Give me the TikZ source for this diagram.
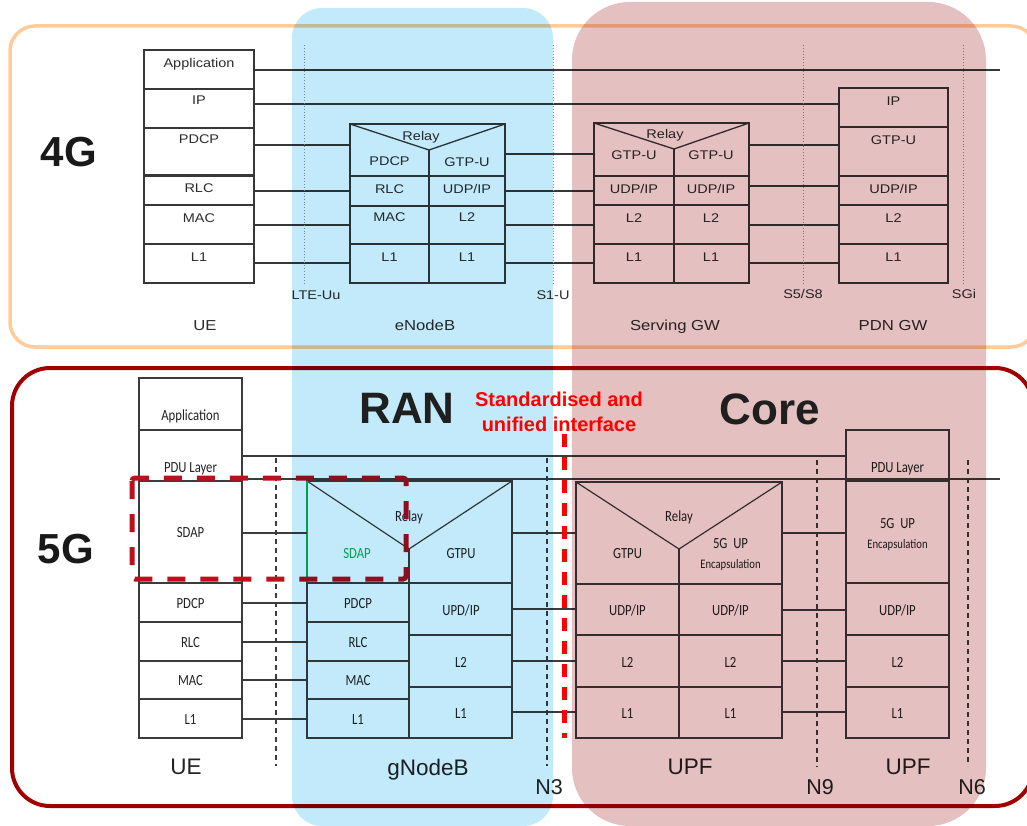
\documentclass[tikz,border=0pt]{standalone}
\usepackage{fontspec}
\setmainfont{Liberation Sans}
\newfontfamily\fA[FakeStretch=1.15]{Liberation Sans}
\newfontfamily\fC[FakeStretch=0.82]{Carlito}
\usetikzlibrary{fit}
\definecolor{orfr}{RGB}{255,203,153}
\definecolor{rdfr}{RGB}{160,0,0}
\definecolor{blueov}{RGB}{194,234,250}
\definecolor{pinkov}{RGB}{228,192,193}
\definecolor{lnA}{RGB}{55,55,55}
\definecolor{lnB}{RGB}{60,60,60}
\definecolor{txA}{RGB}{45,45,45}
\definecolor{txB}{RGB}{35,35,35}
\definecolor{sdapgreen}{RGB}{0,176,80}
\definecolor{boxred}{RGB}{190,15,30}
\definecolor{dotgrey}{RGB}{150,150,150}
\tikzset{
  cellA/.style={draw=lnA, line width=1.3pt, inner sep=0pt, outer sep=0pt},
  cellB/.style={draw=lnB, line width=1.2pt, inner sep=0pt, outer sep=0pt},
  conA/.style={draw=lnA, line width=1.1pt},
  conB/.style={draw=lnB, line width=1.1pt},
  tA/.style={font=\fA\fontsize{12.6}{14}\selectfont, text=txA, inner sep=0pt, text height=9pt, text depth=0pt},
  tAlab/.style={font=\fA\fontsize{14.5}{16}\selectfont, text=txA, inner sep=0pt, text height=10.4pt, text depth=0pt},
  tB/.style={font=\fC\fontsize{15.5}{17}\selectfont, text=txB, inner sep=0pt, text height=10pt, text depth=0pt},
  tBs/.style={font=\fC\fontsize{13}{15}\selectfont, text=txB, inner sep=0pt, text height=8.4pt, text depth=0pt},
  tBlab/.style={font=\fontsize{22.5}{25}\selectfont, text=txB, inner sep=0pt, text height=16.1pt, text depth=0pt},
  tNlab/.style={font=\fontsize{21.5}{24}\selectfont, text=txB, inner sep=0pt, text height=15.4pt, text depth=0pt},
  bigG/.style={font=\bfseries\fontsize{42}{46}\selectfont, text=black!90, inner sep=0pt, text height=30pt, text depth=0pt},
  bigR/.style={font=\bfseries\fontsize{44}{48}\selectfont, text=black!88, inner sep=0pt, text height=31.5pt, text depth=0pt},
  redT/.style={font=\bfseries\fontsize{20}{22}\selectfont, text=red, inner sep=0pt, text height=14.3pt, text depth=0pt},
  dotA/.style={draw=dotgrey, line width=0.9pt, dotted},
  dashB/.style={draw=lnB, line width=1.2pt, dash pattern=on 5pt off 4pt},
}
\newcommand\mycell[6]{\node[#1, fit={(#3,#4) (#5,#6)}] (#2) {};}
\newcommand\mytext[5]{\node[#1] (#2) at (#3,#4) {#5};}
\newcommand\mylink[4]{\draw[#1] (#2.east |- 0,#4) -- (#3.west |- 0,#4);}
\begin{document}
\begin{tikzpicture}[x=1pt,y=-1pt]
\useasboundingbox (0,0) rectangle (1027,826);
\fill[white] (0,0) rectangle (1027,826);
% frames
\draw[orfr, line width=3.5pt, rounded corners=25pt] (10,26) rectangle (1036,347);
\draw[rdfr, line width=4pt, rounded corners=38pt] (12,368) rectangle (1033,806);

% ================= 4G =================
\mytext{bigG}{lab4G}{69}{152}{4G}
% UE
\mycell{cellA}{ueApp}{144}{50}{254}{89}
\mycell{cellA}{ueIP}{144}{89}{254}{128}
\mycell{cellA}{uePDCP}{144}{128}{254}{174.5}
\mycell{cellA}{ueRLC}{144}{176}{254}{205}
\mycell{cellA}{ueMAC}{144}{205}{254}{244}
\mycell{cellA}{ueLone}{144}{244}{254}{283}
\mytext{tA}{ueAppT}{199}{63}{Application}
\mytext{tA}{ueIPT}{199}{100}{IP}
\mytext{tA}{uePDCPT}{199}{139}{PDCP}
\mytext{tA}{ueRLCT}{199}{188}{RLC}
\mytext{tA}{ueMACT}{199}{218}{MAC}
\mytext{tA}{ueLoneT}{199}{257}{L1}
% eNodeB
\mycell{cellA}{enbTop}{350}{124}{505}{176}
\coordinate (enbV) at (429,150);
\draw[lnA, line width=1.3pt] (enbTop.north west) -- (enbV) -- (enbTop.north east);
\draw[lnA, line width=1.3pt] (enbV) -- (enbV |- enbTop.south);
\mycell{cellA}{enbRLC}{350}{176}{429}{206}
\mycell{cellA}{enbUDP}{429}{176}{505}{206}
\mycell{cellA}{enbMAC}{350}{206}{429}{244}
\mycell{cellA}{enbLtwo}{429}{206}{505}{244}
\mycell{cellA}{enbLoneA}{350}{244}{429}{283}
\mycell{cellA}{enbLoneB}{429}{244}{505}{283}
\mytext{tA}{enbRelayT}{421}{136}{Relay}
\mytext{tA}{enbPDCPT}{389.5}{161}{PDCP}
\mytext{tA}{enbGTPT}{467}{162}{GTP-U}
\mytext{tA}{enbRLCT}{389.5}{189}{RLC}
\mytext{tA}{enbUDPT}{467}{189}{UDP/IP}
\mytext{tA}{enbMACT}{389.5}{217}{MAC}
\mytext{tA}{enbLtwoT}{467}{217}{L2}
\mytext{tA}{enbLoneAT}{389.5}{257}{L1}
\mytext{tA}{enbLoneBT}{467}{257}{L1}
% Serving GW
\mycell{cellA}{sgwTop}{594}{123}{749}{176}
\coordinate (sgwV) at (674,149);
\draw[lnA, line width=1.3pt] (sgwTop.north west) -- (sgwV) -- (sgwTop.north east);
\draw[lnA, line width=1.3pt] (sgwV) -- (sgwV |- sgwTop.south);
\mycell{cellA}{sgwUDPa}{594}{176}{674}{205}
\mycell{cellA}{sgwUDPb}{674}{176}{749}{205}
\mycell{cellA}{sgwLtwoA}{594}{205}{674}{244}
\mycell{cellA}{sgwLtwoB}{674}{205}{749}{244}
\mycell{cellA}{sgwLoneA}{594}{244}{674}{283}
\mycell{cellA}{sgwLoneB}{674}{244}{749}{283}
\mytext{tA}{sgwRelayT}{665}{134}{Relay}
\mytext{tA}{sgwGTPaT}{634}{155}{GTP-U}
\mytext{tA}{sgwGTPbT}{711}{155}{GTP-U}
\mytext{tA}{sgwUDPaT}{634}{189}{UDP/IP}
\mytext{tA}{sgwUDPbT}{711}{189}{UDP/IP}
\mytext{tA}{sgwLtwoAT}{634}{218}{L2}
\mytext{tA}{sgwLtwoBT}{711}{218}{L2}
\mytext{tA}{sgwLoneAT}{634}{257}{L1}
\mytext{tA}{sgwLoneBT}{711}{257}{L1}
% PDN GW
\mycell{cellA}{pdnIP}{839}{88}{948}{127}
\mycell{cellA}{pdnGTP}{839}{127}{948}{176}
\mycell{cellA}{pdnUDP}{839}{176}{948}{205}
\mycell{cellA}{pdnLtwo}{839}{205}{948}{244}
\mycell{cellA}{pdnLone}{839}{244}{948}{283}
\mytext{tA}{pdnIPT}{893.5}{101}{IP}
\mytext{tA}{pdnGTPT}{893.5}{140}{GTP-U}
\mytext{tA}{pdnUDPT}{893.5}{189}{UDP/IP}
\mytext{tA}{pdnLtwoT}{893.5}{218}{L2}
\mytext{tA}{pdnLoneT}{893.5}{257}{L1}
% 4G connectors
\coordinate (appEnd) at (1000,70);
\draw[conA] (ueApp.east |- appEnd) -- (appEnd);
\mylink{conA}{ueIP}{pdnIP}{104}
\mylink{conA}{uePDCP}{enbTop}{145}
\mylink{conA}{ueRLC}{enbRLC}{191}
\mylink{conA}{ueMAC}{enbMAC}{225}
\mylink{conA}{ueLone}{enbLoneA}{263}
\mylink{conA}{enbTop}{sgwTop}{154}
\mylink{conA}{enbUDP}{sgwUDPa}{191}
\mylink{conA}{enbLtwo}{sgwLtwoA}{225}
\mylink{conA}{enbLoneB}{sgwLoneA}{263}
\mylink{conA}{sgwTop}{pdnGTP}{145}
\mylink{conA}{sgwUDPb}{pdnUDP}{186}
\mylink{conA}{sgwLtwoB}{pdnLtwo}{225}
\mylink{conA}{sgwLoneB}{pdnLone}{263}
% 4G interface dotted lines
\coordinate (ltet) at (304,45); \coordinate (lteb) at (304,285);
\coordinate (sonet) at (553,45); \coordinate (soneb) at (553,285);
\coordinate (sfivet) at (803,45); \coordinate (sfiveb) at (803,285);
\coordinate (sgit) at (963,45); \coordinate (sgib) at (963,285);
\draw[dotA] (ltet) -- (lteb);
\draw[dotA] (sonet) -- (soneb);
\draw[dotA] (sfivet) -- (sfiveb);
\draw[dotA] (sgit) -- (sgib);
\mytext{tA}{lteT}{316}{295}{LTE-Uu}
\mytext{tA}{soneT}{553}{295}{S1-U}
\mytext{tA}{sfiveT}{803}{294}{S5/S8}
\mytext{tA}{sgiT}{964}{294}{SGi}
\mytext{tAlab}{ueFourL}{205}{325}{UE}
\mytext{tAlab}{enbL}{425}{325}{eNodeB}
\mytext{tAlab}{sgwL}{675}{325}{Serving GW}
\mytext{tAlab}{pdnL}{893}{325}{PDN GW}

% ================= 5G =================
\mytext{bigG}{lab5G}{66}{548}{5G}
% UE
\mycell{cellB}{uefApp}{139}{378}{242}{430}
\mycell{cellB}{uefPDU}{139}{430}{242}{481}
\mycell{cellB}{uefSDAP}{139}{481}{242}{583}
\mycell{cellB}{uefPDCP}{139}{583}{242}{622}
\mycell{cellB}{uefRLC}{139}{622}{242}{661}
\mycell{cellB}{uefMAC}{139}{661}{242}{699}
\mycell{cellB}{uefLone}{139}{699}{242}{738}
\mytext{tB}{uefAppT}{190.5}{415}{Application}
\mytext{tB}{uefPDUT}{190.5}{467}{PDU Layer}
\mytext{tB}{uefSDAPT}{190.5}{532}{SDAP}
\mytext{tB}{uefPDCPT}{190.5}{603}{PDCP}
\mytext{tB}{uefRLCT}{190.5}{642}{RLC}
\mytext{tB}{uefMACT}{190.5}{680}{MAC}
\mytext{tB}{uefLoneT}{190.5}{719}{L1}
% gNodeB
\mycell{cellB}{gnbTop}{307}{481}{512}{583}
\coordinate (gnbV) at (409,549);
\draw[lnB, line width=1.2pt] (gnbTop.north west) -- (gnbV) -- (gnbTop.north east);
\draw[lnB, line width=1.2pt] (gnbV) -- (gnbV |- gnbTop.south);
\draw[sdapgreen, line width=1.2pt] (gnbTop.north west) -- (gnbTop.south west);
\mycell{cellB}{gnbPDCP}{307}{583}{409}{622}
\mycell{cellB}{gnbRLC}{307}{622}{409}{661}
\mycell{cellB}{gnbMAC}{307}{661}{409}{699}
\mycell{cellB}{gnbLoneA}{307}{699}{409}{738}
\mycell{cellB}{gnbUDP}{409}{583}{512}{635}
\mycell{cellB}{gnbLtwo}{409}{635}{512}{687}
\mycell{cellB}{gnbLoneB}{409}{687}{512}{738}
\mytext{tB}{gnbRelayT}{409}{516}{Relay}
\mytext{tB, text=sdapgreen}{gnbSDAPT}{357}{553}{SDAP}
\mytext{tB}{gnbGTPT}{461}{553}{GTPU}
\mytext{tB}{gnbPDCPT}{358}{603}{PDCP}
\mytext{tB}{gnbRLCT}{358}{642}{RLC}
\mytext{tB}{gnbMACT}{358}{680}{MAC}
\mytext{tB}{gnbLoneAT}{358}{719}{L1}
\mytext{tB}{gnbUDPT}{461}{610}{UPD/IP}
\mytext{tB}{gnbLtwoT}{461}{662}{L2}
\mytext{tB}{gnbLoneBT}{461}{713}{L1}
% UPF 1
\mycell{cellB}{upfTop}{576}{482}{782}{584}
\coordinate (upfV) at (679,549);
\draw[lnB, line width=1.2pt] (upfTop.north west) -- (upfV) -- (upfTop.north east);
\draw[lnB, line width=1.2pt] (upfV) -- (upfV |- upfTop.south);
\mycell{cellB}{upfUDPa}{576}{584}{679}{635}
\mycell{cellB}{upfUDPb}{679}{584}{782}{635}
\mycell{cellB}{upfLtwoA}{576}{635}{679}{687}
\mycell{cellB}{upfLtwoB}{679}{635}{782}{687}
\mycell{cellB}{upfLoneA}{576}{687}{679}{738}
\mycell{cellB}{upfLoneB}{679}{687}{782}{738}
\mytext{tB}{upfRelayT}{679}{516}{Relay}
\mytext{tB}{upfGTPT}{627.5}{553}{GTPU}
\mytext{tB}{upfUPT}{730.5}{543}{5G\ \ UP}
\mytext{tBs}{upfEncT}{730.5}{564}{Encapsulation}
\mytext{tB}{upfUDPaT}{627.5}{610}{UDP/IP}
\mytext{tB}{upfUDPbT}{730.5}{610}{UDP/IP}
\mytext{tB}{upfLtwoAT}{627.5}{662}{L2}
\mytext{tB}{upfLtwoBT}{730.5}{662}{L2}
\mytext{tB}{upfLoneAT}{627.5}{713}{L1}
\mytext{tB}{upfLoneBT}{730.5}{713}{L1}
% UPF 2
\mycell{cellB}{uptPDU}{846}{430}{949}{481}
\mycell{cellB}{uptUP}{846}{481}{949}{583}
\mycell{cellB}{uptUDP}{846}{583}{949}{635}
\mycell{cellB}{uptLtwo}{846}{635}{949}{687}
\mycell{cellB}{uptLone}{846}{687}{949}{738}
\mytext{tB}{uptPDUT}{897.5}{467}{PDU Layer}
\mytext{tB}{uptUPT}{897.5}{523}{5G\ \ UP}
\mytext{tBs}{uptEncT}{897.5}{544}{Encapsulation}
\mytext{tB}{uptUDPT}{897.5}{610}{UDP/IP}
\mytext{tB}{uptLtwoT}{897.5}{662}{L2}
\mytext{tB}{uptLoneT}{897.5}{713}{L1}
% 5G connectors
\mylink{conB}{uefPDU}{uptPDU}{456}
\coordinate (pduEnd) at (1000,479);
\draw[conB] (uefPDU.east |- pduEnd) -- (pduEnd);
\mylink{conB}{uefSDAP}{gnbTop}{533}
\mylink{conB}{uefPDCP}{gnbPDCP}{603}
\mylink{conB}{uefRLC}{gnbRLC}{642}
\mylink{conB}{uefMAC}{gnbMAC}{680}
\mylink{conB}{uefLone}{gnbLoneA}{719}
\mylink{conB}{gnbTop}{upfTop}{533}
\mylink{conB}{gnbUDP}{upfUDPa}{609}
\mylink{conB}{gnbLtwo}{upfLtwoA}{661}
\mylink{conB}{gnbLoneB}{upfLoneA}{712}
\mylink{conB}{upfTop}{uptUP}{533}
\mylink{conB}{upfUDPb}{uptUDP}{610}
\mylink{conB}{upfLtwoB}{uptLtwo}{661}
\mylink{conB}{upfLoneB}{uptLone}{712}
% 5G interface dashed lines
\coordinate (uut) at (276,458); \coordinate (uub) at (276,766);
\coordinate (nthreet) at (547,458); \coordinate (nthreeb) at (547,766);
\coordinate (nninet) at (817,460); \coordinate (nnineb) at (817,767);
\coordinate (nsixt) at (968,460); \coordinate (nsixb) at (968,766);
\draw[dashB] (uut) -- (uub);
\draw[dashB] (nthreet) -- (nthreeb);
\draw[dashB] (nninet) -- (nnineb);
\draw[dashB] (nsixt) -- (nsixb);
\mytext{tBlab}{uefL}{186}{766}{UE}
\mytext{tBlab}{gnbL}{428}{767}{gNodeB}
\mytext{tBlab}{upfL}{690}{766}{UPF}
\mytext{tBlab}{uptL}{908}{766}{UPF}
\mytext{tNlab}{nthreeL}{549}{787}{N3}
\mytext{tNlab}{nnineL}{820}{787}{N9}
\mytext{tNlab}{nsixL}{972}{787}{N6}
% red dashed SDAP box
\draw[boxred, line width=5pt, rounded corners=3pt, dash pattern=on 18pt off 15pt] (132,478) rectangle (406,579);

% ================= overlays =================
\begin{scope}[blend mode=multiply]
\fill[blueov, rounded corners=30pt] (292,8) rectangle (553,826);
\fill[pinkov, rounded corners=58pt] (572,2) rectangle (986,826);
\end{scope}

% ================= top texts =================
\mytext{bigR}{ranT}{407}{408}{RAN}
\mytext{bigR}{coreT}{770}{409}{Core}
\mytext{redT}{stdTa}{559}{399}{Standardised and}
\mytext{redT}{stdTb}{559}{424}{unified interface}
\coordinate (ifTop) at (564,434);
\coordinate (ifBot) at (564,738);
\draw[red, line width=5pt, dash pattern=on 13pt off 10pt] (ifTop) -- (ifBot);
\end{tikzpicture}
\end{document}
